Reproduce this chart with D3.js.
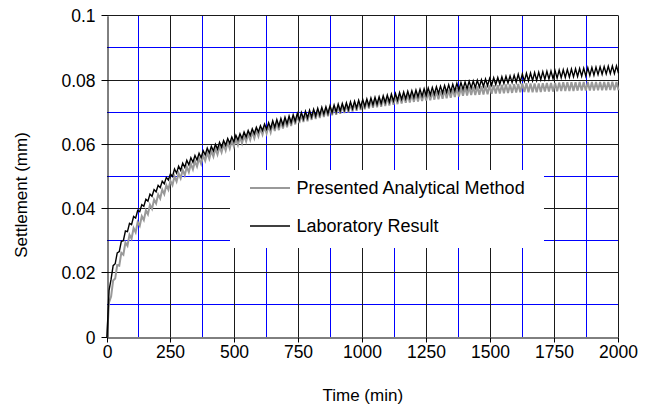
<!DOCTYPE html>
<html><head><meta charset="utf-8">
<script src="https://cdn.jsdelivr.net/npm/d3@7"></script>
<style>
html,body{margin:0;padding:0;background:#fff;}
svg text{font-family:"Liberation Sans",Arial,sans-serif;fill:#000;}
</style></head>
<body><svg id="c" width="651" height="410"></svg>
<script>
// ---- data ----
const troughTime = [0,16,32,48,64,80,96,112,128,144,160,176,192,208,224,240,256,272,288,304,320,336,352,368,384,400,416,432,448,464,480,496,512,528,544,560,576,592,608,624,640,656,672,688,704,720,736,752,768,784,800,816,832,848,864,880,896,912,928,944,960,976,992,1008,1024,1040,1056,1072,1088,1104,1120,1136,1152,1168,1184,1200,1216,1232,1248,1264,1280,1296,1312,1328,1344,1360,1376,1392,1408,1424,1440,1456,1472,1488,1504,1520,1536,1552,1568,1584,1600,1616,1632,1648,1664,1680,1696,1712,1728,1744,1760,1776,1792,1808,1824,1840,1856,1872,1888,1904,1920,1936,1952,1968,1984,2000];
const peakTime = [8,24,40,56,72,88,104,120,136,152,168,184,200,216,232,248,264,280,296,312,328,344,360,376,392,408,424,440,456,472,488,504,520,536,552,568,584,600,616,632,648,664,680,696,712,728,744,760,776,792,808,824,840,856,872,888,904,920,936,952,968,984,1000,1016,1032,1048,1064,1080,1096,1112,1128,1144,1160,1176,1192,1208,1224,1240,1256,1272,1288,1304,1320,1336,1352,1368,1384,1400,1416,1432,1448,1464,1480,1496,1512,1528,1544,1560,1576,1592,1608,1624,1640,1656,1672,1688,1704,1720,1736,1752,1768,1784,1800,1816,1832,1848,1864,1880,1896,1912,1928,1944,1960,1976,1992];

// Laboratory Result (black)
const labTrough = [0,.0180,.0228,.0266,.0300,.0328,.0350,.0370,.0390,.0407,.0423,.0438,.0452,.0465,.0477,.0489,
.0500,.0510,.0519,.0528,.0536,.0544,.0551,.0558,.0567,.0573,.0579,.0585,.0591,.0597,.0603,.0608,
.0613,.0618,.0623,.0628,.0633,.0638,.0643,.0647,.0649,.0653,.0656,.0660,.0664,.0668,.0672,.0676,.0679,.0682,
.0685,.0688,.0691,.0694,.0696,.0699,.0701,.0704,.0706,.0708,.0711,.0713,.0716,.0718,.0720,.0723,.0725,.0727,.0730,.0732,
.0735,.0737,.0740,.0742,.0744,.0746,.0748,.0750,.0752,.0754,.0756,.0758,.0760,.0762,.0764,.0766,.0769,.0771,.0773,.0775,
.0776,.0778,.0780,.0782,.0784,.0786,.0787,.0789,.0791,.0792,.0793,.0794,.0796,.0797,.0798,.0799,.0801,.0802,.0803,.0804,
.0806,.0807,.0808,.0809,.0810,.0811,.0812,.0813,.0814,.0815,.0817,.0818,.0819,.0820,.0820,.0821];
const labPeak = [.0145,.0222,.0262,.0298,.0330,.0354,.0375,.0394,.0412,.0429,.0445,.0459,.0472,.0485,.0497,.0508,
.0523,.0532,.0541,.0550,.0558,.0565,.0572,.0580,.0588,.0594,.0600,.0606,.0612,.0618,.0623,.0628,
.0633,.0638,.0643,.0648,.0653,.0658,.0663,.0667,.0673,.0677,.0680,.0684,.0688,.0692,.0696,.0699,.0703,.0706,
.0709,.0712,.0715,.0717,.0720,.0722,.0725,.0727,.0729,.0732,.0734,.0737,.0739,.0741,.0744,.0746,.0748,.0751,.0753,.0756,
.0758,.0761,.0763,.0765,.0767,.0769,.0771,.0773,.0775,.0777,.0779,.0781,.0783,.0785,.0787,.0790,.0792,.0794,.0796,.0797,
.0799,.0801,.0803,.0805,.0807,.0808,.0810,.0812,.0813,.0815,.0818,.0819,.0821,.0822,.0823,.0824,.0826,.0827,.0828,.0829,
.0831,.0832,.0833,.0834,.0835,.0836,.0837,.0838,.0839,.0840,.0841,.0842,.0843,.0844,.0844];

// Presented Analytical Method (grey)
const anaTrough = [0,.0126,.0182,.0222,.0256,.0284,.0306,.0326,.0346,.0364,.0382,.0399,.0416,.0431,.0445,.0459,
.0473,.0484,.0494,.0504,.0513,.0522,.0531,.0539,.0549,.0555,.0562,.0568,.0575,.0581,.0587,.0593,
.0598,.0603,.0609,.0614,.0619,.0625,.0630,.0634,.0637,.0641,.0644,.0649,.0653,.0657,.0662,.0666,.0669,.0672,
.0676,.0679,.0682,.0685,.0687,.0690,.0692,.0695,.0697,.0699,.0702,.0704,.0707,.0709,.0711,.0714,.0715,.0717,.0719,.0721,
.0723,.0725,.0727,.0729,.0730,.0732,.0733,.0735,.0736,.0737,.0739,.0740,.0742,.0743,.0745,.0747,.0749,.0751,.0752,.0753,
.0753,.0754,.0755,.0756,.0757,.0758,.0758,.0759,.0760,.0760,.0761,.0762,.0763,.0762,.0762,.0762,.0763,.0764,.0764,.0764,
.0765,.0766,.0766,.0766,.0766,.0767,.0767,.0767,.0767,.0767,.0768,.0768,.0768,.0769,.0768,.0768];
const anaPeak = [.0108,.0176,.0224,.0262,.0294,.0318,.0339,.0358,.0376,.0394,.0412,.0428,.0444,.0459,.0473,.0486,
.0500,.0510,.0520,.0530,.0539,.0547,.0556,.0565,.0574,.0580,.0587,.0593,.0600,.0606,.0611,.0617,
.0622,.0627,.0633,.0638,.0643,.0649,.0654,.0658,.0665,.0669,.0672,.0677,.0681,.0685,.0690,.0693,.0697,.0700,
.0704,.0707,.0710,.0712,.0715,.0717,.0720,.0722,.0724,.0727,.0729,.0732,.0734,.0736,.0739,.0741,.0742,.0745,.0746,.0749,
.0750,.0753,.0754,.0756,.0757,.0759,.0760,.0762,.0763,.0764,.0766,.0767,.0769,.0770,.0772,.0775,.0776,.0778,.0779,.0779,
.0780,.0781,.0782,.0783,.0784,.0784,.0785,.0786,.0786,.0787,.0788,.0789,.0790,.0789,.0789,.0789,.0790,.0791,.0791,.0791,
.0792,.0793,.0793,.0793,.0793,.0794,.0794,.0794,.0794,.0794,.0794,.0794,.0794,.0795,.0794];

const xTicks = [0,250,500,750,1000,1250,1500,1750,2000];
const xTickLabels = ["0","250","500","750","1000","1250","1500","1750","2000"];
const xMinorGrid = [125,375,625,875,1125,1375,1625,1875];
const yTicks = [0,0.02,0.04,0.06,0.08,0.1];
const yTickLabels = ["0","0.02","0.04","0.06","0.08","0.1"];
const yMinorGrid = [0.01,0.03,0.05,0.07,0.09];
const seriesNames = ["Presented Analytical Method","Laboratory Result"];
const xTitle = "Time (min)";
const yTitle = "Settlement (mm)";

// ---- drawing ----
const svg = d3.select("#c");
svg.append("rect").attr("width",651).attr("height",410).attr("fill","#fff");
const x = d3.scaleLinear().domain([0,2000]).range([107,618.5]);
const y = d3.scaleLinear().domain([0,0.1]).range([337,15.8]);
const px = v => Math.floor(v) + 0.5;

const grid = svg.append("g");
grid.selectAll(".vm").data(xMinorGrid).join("line")
  .attr("x1",d=>px(x(d))).attr("x2",d=>px(x(d))).attr("y1",y(0.1)).attr("y2",y(0))
  .attr("stroke","#0000ff").attr("stroke-width",1);
grid.selectAll(".hm").data(yMinorGrid).join("line")
  .attr("y1",d=>px(y(d))).attr("y2",d=>px(y(d))).attr("x1",x(0)).attr("x2",x(2000))
  .attr("stroke","#0000ff").attr("stroke-width",1);
grid.selectAll(".vM").data(xTicks.slice(1)).join("line")
  .attr("x1",d=>px(x(d))).attr("x2",d=>px(x(d))).attr("y1",y(0.1)).attr("y2",y(0))
  .attr("stroke","#1a1a1a").attr("stroke-width",1);
grid.selectAll(".hM").data(yTicks.slice(1)).join("line")
  .attr("y1",d=>px(y(d))).attr("y2",d=>px(y(d))).attr("x1",x(0)).attr("x2",x(2000))
  .attr("stroke","#1a1a1a").attr("stroke-width",1);

function pts(tt, tv, pt, pv){
  const out = [];
  for(let i=0;i<tt.length;i++){
    out.push([tt[i], tv[i]]);
    if(i<pt.length) out.push([pt[i], pv[i]]);
  }
  return out;
}
const line = d3.line().x(d=>x(d[0])).y(d=>y(d[1]));
svg.append("path").datum(pts(troughTime, anaTrough, peakTime, anaPeak))
  .attr("d",line).attr("fill","none").attr("stroke","#999999").attr("stroke-width",2);
svg.append("path").datum(pts(troughTime, labTrough, peakTime, labPeak))
  .attr("d",line).attr("fill","none").attr("stroke","#000").attr("stroke-width",1.4);

const xAxis = d3.axisBottom(x).tickValues(xTicks).tickSize(5).tickSizeOuter(0)
  .tickFormat((d,i)=>xTickLabels[i]);
const gx = svg.append("g").attr("transform",`translate(0,${px(y(0))})`).call(xAxis);
gx.select(".domain").attr("stroke","#000");
gx.selectAll(".tick line").attr("stroke","#000");
gx.selectAll(".tick text").attr("font-size","17.5px").attr("y",8).attr("dy","0.71em")
  .style("font-family","'Liberation Sans',Arial,sans-serif");
gx.selectAll(".tick").attr("transform",d=>`translate(${px(x(d))},0)`);

const yAxis = d3.axisLeft(y).tickValues(yTicks).tickSize(6).tickSizeOuter(0)
  .tickFormat((d,i)=>yTickLabels[i]);
const gy = svg.append("g").attr("transform",`translate(${px(x(0))},0)`).call(yAxis);
gy.select(".domain").attr("stroke","#000");
gy.selectAll(".tick line").attr("stroke","#000");
gy.selectAll(".tick text").attr("font-size","17.5px").attr("x",-12).attr("dy","0.35em")
  .style("font-family","'Liberation Sans',Arial,sans-serif");
gy.selectAll(".tick").attr("transform",d=>`translate(0,${px(y(d))})`);
svg.selectAll(".domain").attr("stroke-width",1);

svg.append("text").attr("x",(x(0)+x(2000))/2).attr("y",401).attr("text-anchor","middle")
  .attr("font-size","17px").text(xTitle);
svg.append("text").attr("transform","translate(26.5,195) rotate(-90)").attr("text-anchor","middle")
  .attr("font-size","17px").text(yTitle);

const lg = svg.append("g");
lg.append("rect").attr("x",230).attr("y",170).attr("width",314).attr("height",78).attr("fill","#fff");
const legColors = ["#999999","#000"], legW = [2,1.4], legY = [188,226];
seriesNames.forEach((n,i)=>{
  lg.append("line").attr("x1",250).attr("x2",290).attr("y1",legY[i]).attr("y2",legY[i])
    .attr("stroke",legColors[i]).attr("stroke-width",legW[i]);
  lg.append("text").attr("x",296.5).attr("y",legY[i]+6).attr("font-size","18px").text(n);
});
</script></body></html>
